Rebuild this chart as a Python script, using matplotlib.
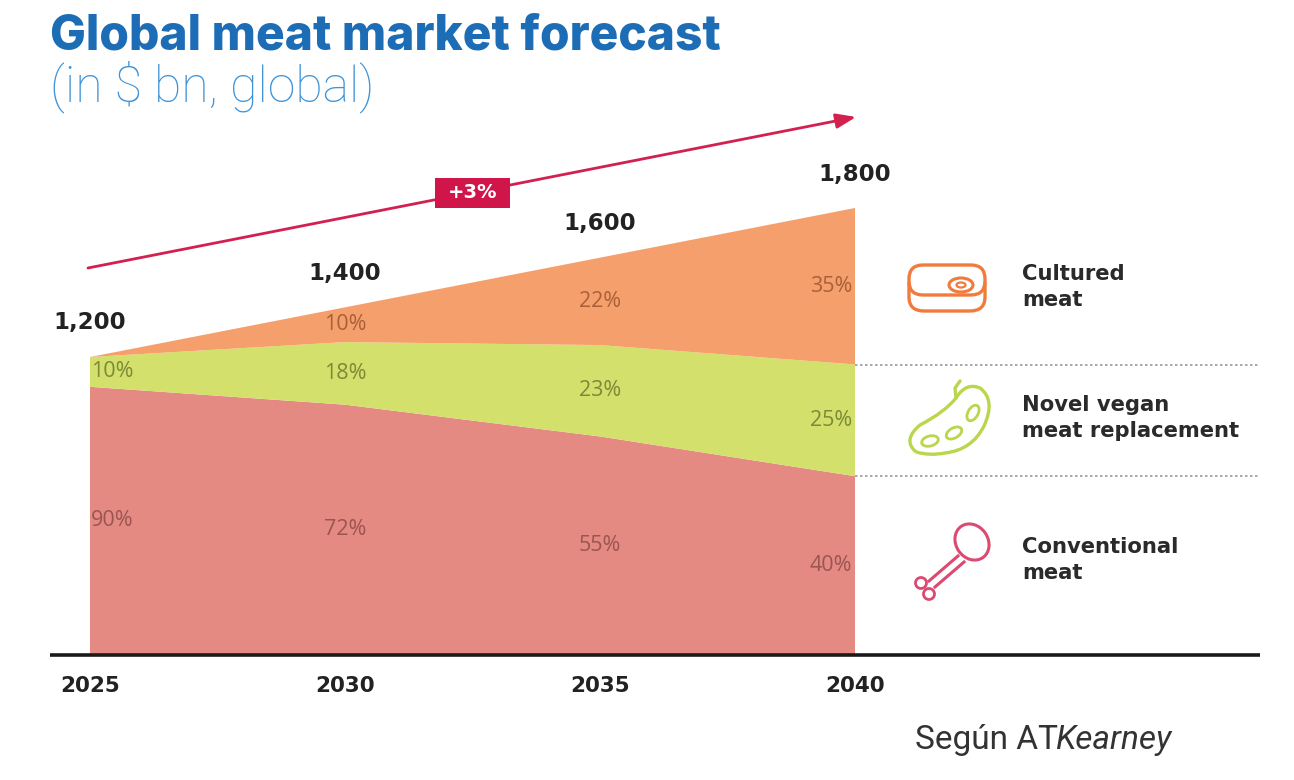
import matplotlib
matplotlib.use("Agg")
import matplotlib.pyplot as plt
import numpy as np
from matplotlib.patches import Ellipse, FancyBboxPatch, Circle, PathPatch, Rectangle
from matplotlib.path import Path

# ---------------- data ----------------
years = [2025, 2030, 2035, 2040]
totals = [1200, 1400, 1600, 1800]           # $ bn
conventional_pct = [90, 72, 55, 40]
vegan_pct = [10, 18, 23, 25]
cultured_pct = [0, 10, 22, 35]
total_labels = ["1,200", "1,400", "1,600", "1,800"]
year_labels = ["2025", "2030", "2035", "2040"]
legend_labels = ["Cultured\nmeat", "Novel vegan\nmeat replacement", "Conventional\nmeat"]

c_conv = "#E58A83"
c_veg = "#D3E06B"
c_cult = "#F5A06C"
t_conv = "#9B5550"
t_veg = "#7C8A38"
t_cult = "#A9603A"

W, H = 1294, 780
fig = plt.figure(figsize=(W / 100, H / 100), dpi=100)
fig.patch.set_facecolor("white")

# data axes: 2025 -> px 90, 2040 -> px 855 ; 0 -> py 655, 1800 -> py 208
x0, x1 = 90, 855
y0, y1 = 655, 208
ax = fig.add_axes([x0 / W, 1 - y0 / H, (x1 - x0) / W, (y0 - y1) / H])
ax.set_xlim(2025, 2040)
ax.set_ylim(0, 1800)
ax.axis("off")

tot = np.array(totals, float)
conv = tot * np.array(conventional_pct) / 100
veg = tot * np.array(vegan_pct) / 100
cult = tot * np.array(cultured_pct) / 100
ax.stackplot(years, conv, veg, cult, colors=[c_conv, c_veg, c_cult], linewidth=0)

# overlay axes in pixel coords
ov = fig.add_axes([0, 0, 1, 1], facecolor="none")
ov.set_xlim(0, W)
ov.set_ylim(H, 0)
ov.axis("off")

renderer = fig.canvas.get_renderer()


def fit(t, target_w):
    bb = t.get_window_extent(renderer=renderer)
    t.set_fontsize(t.get_fontsize() * target_w / bb.width)


# percentage labels
layers = [(conv * 0, conv, conventional_pct, t_conv),
          (conv, conv + veg, vegan_pct, t_veg),
          (conv + veg, conv + veg + cult, cultured_pct, t_cult)]
for lo, hi, pcts, col in layers:
    for i, yr in enumerate(years):
        if pcts[i] == 0:
            continue
        mid = (lo[i] + hi[i]) / 2
        if i == 0:
            ha, xx = "left", yr + 0.02
        elif i == len(years) - 1:
            ha, xx = "right", yr - 0.05
        else:
            ha, xx = "center", yr
        ax.text(xx, mid, f"{pcts[i]}%", ha=ha, va="center", fontsize=15.5,
                color=col, family="Open Sans", clip_on=False)

# totals above the area, years below the baseline
for i, yr in enumerate(years):
    top = conv[i] + veg[i] + cult[i]
    ax.annotate(total_labels[i], (yr, top), xytext=(0, 34), textcoords="offset pixels",
                ha="center", va="center", fontsize=16.5, fontweight="bold",
                color="#222222", family="DejaVu Sans", annotation_clip=False)
    ax.annotate(year_labels[i], (yr, 0), xytext=(0, -31), textcoords="offset pixels",
                ha="center", va="center", fontsize=15.5, fontweight="bold",
                color="#222222", family="DejaVu Sans", annotation_clip=False)

# baseline
ov.plot([50, 1260], [655, 655], color="#1a1a1a", lw=2.6, solid_capstyle="butt")
# dotted separators
for yy in (365, 476):
    ov.plot([855, 1258], [yy, yy], color="#999999", lw=1.2, ls=(0, (1.5, 1.5)))

# growth arrow
ov.annotate("", xy=(856, 117), xytext=(88, 268),
            arrowprops=dict(arrowstyle="-|>,head_length=1.2,head_width=0.45",
                            color="#D2204F", lw=2.0, shrinkA=0, shrinkB=0))
ov.add_patch(Rectangle((435, 178), 75, 30, facecolor="#D0154B", edgecolor="none", zorder=5))
ov.text(472.5, 193, "+3%", ha="center", va="center", color="white", fontsize=14,
        fontweight="bold", zorder=6)

# title & subtitle
t1 = ov.text(50, 50, "Global meat market forecast", ha="left", va="baseline",
             fontsize=34, fontweight="heavy", color="#1C6DB5", family="Inter")
fit(t1, 670)
t2 = ov.text(50, 101, "(in $ bn, global)", ha="left", va="baseline",
             fontsize=30, fontweight="light", color="#3F93D6", family="Roboto")
fit(t2, 325)

# legend texts
leg_y = [287, 418, 560]
probe = ov.text(0, 0, "meat replacement", fontsize=15, fontweight="bold", family="DejaVu Sans")
bb = probe.get_window_extent(renderer=renderer)
scale = 218 / bb.width
probe.remove()
for lab, yy in zip(legend_labels, leg_y):
    ov.text(1022, yy, lab, ha="left", va="center", fontsize=15 * scale, fontweight="bold",
            color="#2a2a2a", family="DejaVu Sans", linespacing=1.35)

# source
fs_src = 24
src1 = ov.text(915, 740, "Según AT", ha="left", va="center", fontsize=fs_src,
               color="#333333", family="Roboto")
bb1 = src1.get_window_extent(renderer=renderer)
src2 = ov.text(915 + bb1.width - 3, 740, "Kearney", ha="left", va="center", fontsize=fs_src,
               color="#333333", family="Roboto", style="italic")

# ---------- icons ----------
orange = "#F07B3C"
green = "#B9D64C"
pink = "#DB4A70"
# steak
ov.add_patch(FancyBboxPatch((909, 265), 76, 30, boxstyle="round,pad=0,rounding_size=14",
                            facecolor="none", edgecolor=orange, lw=2.4))
side = Path([(909, 282), (909, 297), (909, 311), (924, 311), (970, 311),
             (985, 311), (985, 297), (985, 282)],
            [Path.MOVETO, Path.LINETO, Path.CURVE3, Path.CURVE3, Path.LINETO,
             Path.CURVE3, Path.CURVE3, Path.LINETO])
ov.add_patch(PathPatch(side, facecolor="none", edgecolor=orange, lw=2.4))
ov.add_patch(Ellipse((961, 285), 24, 14, facecolor="none", edgecolor=orange, lw=2.2))
ov.add_patch(Ellipse((961, 285), 9, 5, facecolor="none", edgecolor=orange, lw=1.6))

# soybean pod
pod = Path([(916, 452),
            (902, 440), (920, 425),
            (945, 412), (956, 398),
            (966, 382), (980, 388),
            (996, 400), (984, 426),
            (972, 450), (945, 453),
            (930, 456), (916, 452)],
           [Path.MOVETO] + [Path.CURVE3] * 12)
ov.add_patch(PathPatch(pod, facecolor="none", edgecolor=green, lw=2.4))
ov.plot([956, 955, 960], [398, 388, 381], color=green, lw=2.4, solid_capstyle="round")
for (cx, cy, ang) in [(930, 441, 15), (954, 433, 30), (973, 413, 60)]:
    ov.add_patch(Ellipse((cx, cy), 17, 10, angle=-ang, facecolor="none", edgecolor=green, lw=2))

# drumstick
ov.add_patch(Ellipse((972, 542), 32, 38, angle=-35, facecolor="none", edgecolor=pink, lw=2.2))
ov.plot([958, 929], [556, 581], color=pink, lw=2.2)
ov.plot([964, 935], [562, 587], color=pink, lw=2.2)
ov.add_patch(Circle((921, 583), 5.5, facecolor="none", edgecolor=pink, lw=2))
ov.add_patch(Circle((929, 594), 5.5, facecolor="none", edgecolor=pink, lw=2))

fig.savefig("out.png", dpi=100, facecolor="white")
